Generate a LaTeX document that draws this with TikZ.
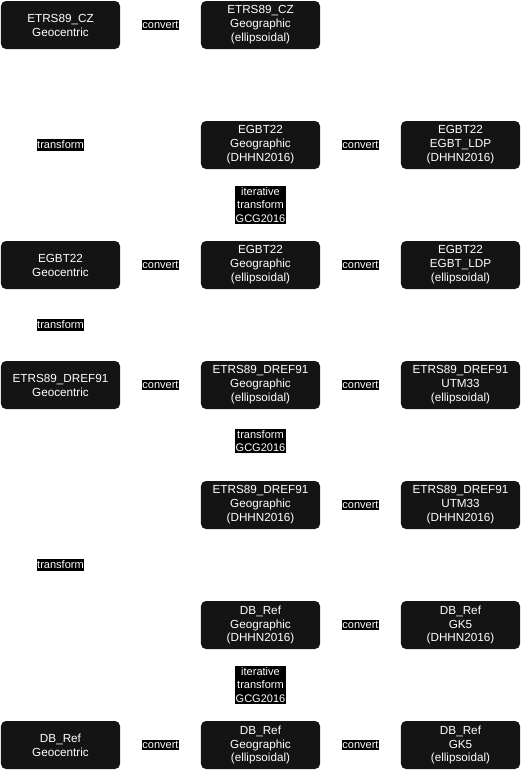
\documentclass[tikz,border=0pt]{standalone}
\usepackage{fontspec}
\setmainfont{Liberation Sans}
\usepackage{xcolor}
\definecolor{crsfill}{HTML}{141414}

\begin{document}
\begin{tikzpicture}[x=0.03cm,y=-0.03cm,
  crs/.style={fill=crsfill,text=white,rounded corners=0.15cm,align=center,minimum width=3.57cm,minimum height=1.44cm,inner sep=0pt,font=\fontsize{10}{11.9}\selectfont},
  op/.style={fill=black,text=white,align=center,inner xsep=0.6pt,inner ysep=1.3pt,font=\fontsize{9.4}{11.5}\selectfont}]
\useasboundingbox (0,0) rectangle (521,771);
\node[crs] (czgeoc) at (60.5,25) {ETRS89\_CZ\\Geocentric};
\node[crs] (czgeog) at (260.5,25) {ETRS89\_CZ\\Geographic\\(ellipsoidal)};
\node[crs] (egbgeoh) at (260.5,145) {EGBT22\\Geographic\\(DHHN2016)};
\node[crs] (egbldph) at (460.5,145) {EGBT22\\EGBT\_LDP\\(DHHN2016)};
\node[crs] (egbgeoc) at (60.5,265) {EGBT22\\Geocentric};
\node[crs] (egbgeog) at (260.5,265) {EGBT22\\Geographic\\(ellipsoidal)};
\node[crs] (egbldp) at (460.5,265) {EGBT22\\EGBT\_LDP\\(ellipsoidal)};
\node[crs] (drefgeoc) at (60.5,385) {ETRS89\_DREF91\\Geocentric};
\node[crs] (drefgeog) at (260.5,385) {ETRS89\_DREF91\\Geographic\\(ellipsoidal)};
\node[crs] (drefutm) at (460.5,385) {ETRS89\_DREF91\\UTM33\\(ellipsoidal)};
\node[crs] (drefgeoh) at (260.5,505) {ETRS89\_DREF91\\Geographic\\(DHHN2016)};
\node[crs] (drefutmh) at (460.5,505) {ETRS89\_DREF91\\UTM33\\(DHHN2016)};
\node[crs] (dbgeoh) at (260.5,625) {DB\_Ref\\Geographic\\(DHHN2016)};
\node[crs] (dbgkh) at (460.5,625) {DB\_Ref\\GK5\\(DHHN2016)};
\node[crs] (dbgeoc) at (60.5,745) {DB\_Ref\\Geocentric};
\node[crs] (dbgeog) at (260.5,745) {DB\_Ref\\Geographic\\(ellipsoidal)};
\node[crs] (dbgk) at (460.5,745) {DB\_Ref\\GK5\\(ellipsoidal)};
\foreach \a/\b in {czgeoc/czgeog,egbgeoh/egbldph,egbgeoc/egbgeog,egbgeog/egbldp,drefgeoc/drefgeog,drefgeog/drefutm,drefgeoh/drefutmh,dbgeoh/dbgkh,dbgeoc/dbgeog,dbgeog/dbgk} {\path (\a) -- node[op] {convert} (\b);}
\foreach \a/\b in {czgeoc/egbgeoc,egbgeoc/drefgeoc,drefgeoc/dbgeoc} {\path (\a) -- node[op] {transform} (\b);}
\path (egbgeoh) -- node[op] {iterative\\transform\\GCG2016} (egbgeog);
\path (drefgeog) -- node[op,yshift=0.12cm] {transform\\GCG2016} (drefgeoh);
\path (dbgeoh) -- node[op] {iterative\\transform\\GCG2016} (dbgeog);
\end{tikzpicture}
\end{document}
